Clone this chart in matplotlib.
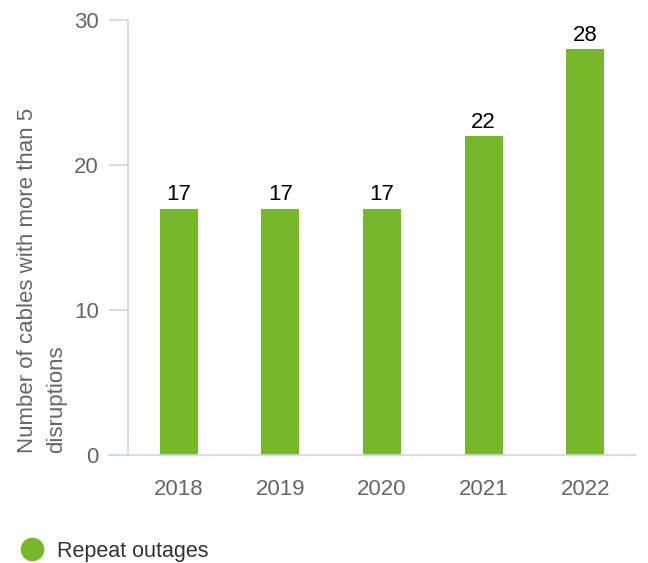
import matplotlib
matplotlib.use("Agg")
import matplotlib.pyplot as plt
from matplotlib.lines import Line2D

# Repeat outages per year
years = ["2018", "2019", "2020", "2021", "2022"]
repeat_outages = [17, 17, 17, 22, 28]
y_ticks = [0, 10, 20, 30]

BAR_COLOR = "#77b82a"
AXIS_COLOR = "#ccd6eb"
TICK_COLOR = "#666666"

plt.rcParams["font.family"] = ["Liberation Sans", "DejaVu Sans"]

fig = plt.figure(figsize=(6.48, 5.63), dpi=100)
ax = fig.add_axes([128 / 648, 108 / 563, 508 / 648, 435 / 563])

x = range(len(years))
ax.bar(x, repeat_outages, width=0.375, color=BAR_COLOR, zorder=2)

for xi, v in zip(x, repeat_outages):
    ax.annotate(str(v), (xi, v), xytext=(0, 2.5), textcoords="offset points",
                ha="center", va="bottom", fontsize=16, color="black")

ax.set_xlim(-0.5, len(years) - 0.5)
ax.set_ylim(0, 30)
ax.set_xticks(list(x))
ax.set_xticklabels(years)
ax.set_yticks(y_ticks)

for side in ["top", "right"]:
    ax.spines[side].set_visible(False)
for side in ["left", "bottom"]:
    ax.spines[side].set_color(AXIS_COLOR)
    ax.spines[side].set_linewidth(1.2)

ax.tick_params(axis="y", length=14, width=1.2, color=AXIS_COLOR,
               labelcolor=TICK_COLOR, labelsize=16, pad=7)
ax.tick_params(axis="x", length=0, labelcolor=TICK_COLOR, labelsize=16, pad=17)

# bottom axis line extends left past the y axis, like the tick marks
ax.plot([-0.5 - 19 / 101.6, -0.5], [0, 0], color=AXIS_COLOR, lw=1.2,
        clip_on=False, zorder=1)

fig.text(17 / 648, 110 / 563, "Number of cables with more than 5\ndisruptions",
         rotation=90, ha="left", va="bottom", fontsize=16, color=TICK_COLOR,
         linespacing=1.5, multialignment="left")

handle = Line2D([], [], marker="o", linestyle="none", markersize=16,
                markerfacecolor=BAR_COLOR, markeredgecolor=BAR_COLOR)
fig.legend([handle], ["Repeat outages"], loc="center left",
           bbox_to_anchor=(0 / 648, 12 / 563), frameon=False,
           fontsize=15.5, labelcolor="#333333", handletextpad=0.55,
           handlelength=1.2)

fig.savefig("out.png", dpi=100)
